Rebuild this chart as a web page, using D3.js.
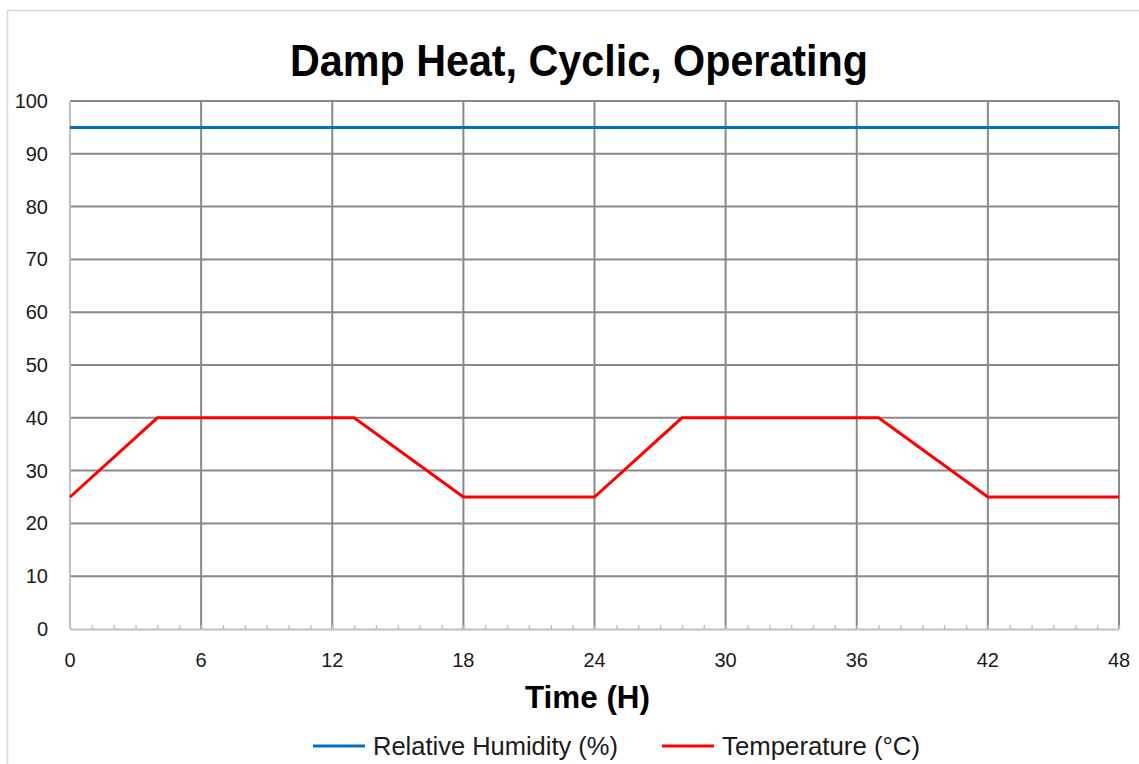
<!DOCTYPE html>
<html>
<head>
<meta charset="utf-8">
<script src="https://cdn.jsdelivr.net/npm/d3@7"></script>
<style>
  body { margin: 0; background: #fff; }
  svg { display: block; }
</style>
</head>
<body>
<div id="chart"></div>
<script>
  // chart values
  var hours = [0, 4, 13, 18, 24, 28, 37, 42, 48];
  var temperature = [25, 40, 40, 25, 25, 40, 40, 25, 25];
  var humidityHours = [0, 48];
  var humidity = [95, 95];
  var xTicks = [0, 6, 12, 18, 24, 30, 36, 42, 48];
  var yTicks = [0, 10, 20, 30, 40, 50, 60, 70, 80, 90, 100];
  var seriesNames = ["Relative Humidity (%)", "Temperature (°C)"];
  var seriesColors = ["#0070C0", "#FF0000"];

  var width = 1139, height = 764;
  var margin = { left: 70, right: 20, top: 101, bottom: 135 };

  var svg = d3.select("#chart")
    .append("svg")
    .attr("width", width)
    .attr("height", height);

  // chart area border
  svg.append("rect")
    .attr("x", 7.5)
    .attr("y", 10.5)
    .attr("width", width + 20)
    .attr("height", height + 20)
    .attr("fill", "#fff")
    .attr("stroke", "#d9d9d9")
    .attr("stroke-width", 1.5);

  var x = d3.scaleLinear().domain([0, 48]).range([margin.left, width - margin.right]);
  var y = d3.scaleLinear().domain([0, 100]).range([height - margin.bottom, margin.top]);

  var plotFont = "'Liberation Sans', Arial, sans-serif";
  var narrowFont = "'Liberation Sans Narrow', 'Arial Narrow', 'Liberation Sans', sans-serif";

  // narrow look: squeeze text into the measured width
  svg.append("text")
    .attr("x", 290)
    .attr("y", 76)
    .attr("textLength", 578)
    .attr("lengthAdjust", "spacingAndGlyphs")
    .style("font-family", narrowFont)
    .style("font-weight", "bold")
    .style("font-size", "45px")
    .attr("fill", "#000")
    .text("Damp Heat, Cyclic, Operating");

  // horizontal grid
  svg.append("g")
    .selectAll("line")
    .data(yTicks.filter(d => d > 0))
    .enter()
    .append("line")
    .attr("x1", x(0))
    .attr("x2", x(48))
    .attr("y1", d => y(d))
    .attr("y2", d => y(d))
    .attr("stroke", "#898989")
    .attr("stroke-width", 2);

  // vertical grid
  svg.append("g")
    .selectAll("line")
    .data(xTicks.filter(d => d > 0))
    .enter()
    .append("line")
    .attr("x1", d => x(d))
    .attr("x2", d => x(d))
    .attr("y1", y(100))
    .attr("y2", y(0))
    .attr("stroke", "#898989")
    .attr("stroke-width", 2);

  // left axis line
  svg.append("line")
    .attr("x1", x(0)).attr("x2", x(0))
    .attr("y1", y(100)).attr("y2", y(0))
    .attr("stroke", "#c0c0c0")
    .attr("stroke-width", 2);

  // x axis with hourly minor ticks
  var xAxis = d3.axisBottom(x)
    .tickValues(d3.range(0, 49, 1))
    .tickSizeInner(-4)
    .tickSizeOuter(0)
    .tickFormat("");
  var gx = svg.append("g")
    .attr("transform", "translate(0," + y(0) + ")")
    .call(xAxis);
  gx.select(".domain").attr("stroke", "#c0c0c0").attr("stroke-width", 2);
  gx.selectAll(".tick line").attr("stroke", "#c0c0c0").attr("stroke-width", 1.5);

  svg.append("g")
    .selectAll("text")
    .data(xTicks)
    .enter()
    .append("text")
    .attr("x", d => x(d))
    .attr("y", y(0) + 38)
    .attr("text-anchor", "middle")
    .style("font-family", plotFont)
    .style("font-size", "20px")
    .attr("fill", "#1a1a1a")
    .text(d => d);

  svg.append("g")
    .selectAll("text")
    .data(yTicks)
    .enter()
    .append("text")
    .attr("x", 48)
    .attr("y", d => y(d) + 7)
    .attr("text-anchor", "end")
    .style("font-family", plotFont)
    .style("font-size", "20px")
    .attr("fill", "#1a1a1a")
    .text(d => d);

  var line = d3.line()
    .x(d => x(d[0]))
    .y(d => y(d[1]));

  svg.append("path")
    .datum(d3.zip(humidityHours, humidity))
    .attr("d", line)
    .attr("fill", "none")
    .attr("stroke", seriesColors[0])
    .attr("stroke-width", 3);

  svg.append("path")
    .datum(d3.zip(hours, temperature))
    .attr("d", line)
    .attr("fill", "none")
    .attr("stroke", seriesColors[1])
    .attr("stroke-width", 3);

  svg.append("text")
    .attr("x", 525)
    .attr("y", 708)
    .attr("textLength", 125)
    .attr("lengthAdjust", "spacingAndGlyphs")
    .style("font-family", narrowFont)
    .style("font-weight", "bold")
    .style("font-size", "31px")
    .attr("fill", "#000")
    .text("Time (H)");

  // legend
  var legendX = [313, 662];
  var legendLen = [245, 198];
  var legend = svg.append("g")
    .selectAll("g")
    .data(seriesNames)
    .enter()
    .append("g")
    .attr("transform", (d, i) => "translate(" + legendX[i] + ",746)");
  legend.append("line")
    .attr("x1", 0).attr("x2", 52)
    .attr("y1", 0).attr("y2", 0)
    .attr("stroke", (d, i) => seriesColors[i])
    .attr("stroke-width", 3);
  legend.append("text")
    .attr("x", 60)
    .attr("y", 9)
    .attr("textLength", (d, i) => legendLen[i])
    .attr("lengthAdjust", "spacingAndGlyphs")
    .style("font-family", narrowFont)
    .style("font-size", "25px")
    .attr("fill", "#1a1a1a")
    .text(d => d);
</script>
</body>
</html>
